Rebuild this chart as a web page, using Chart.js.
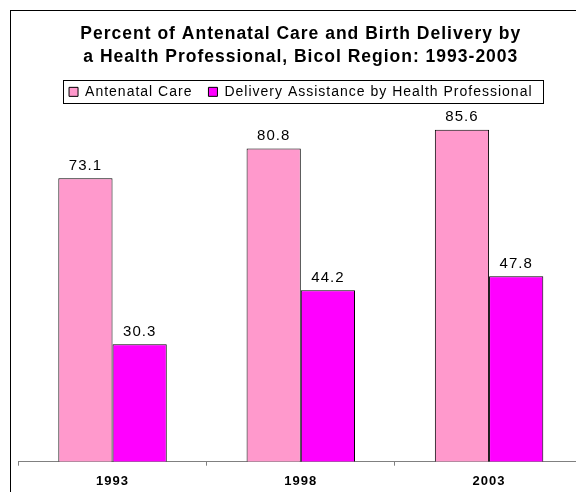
<!DOCTYPE html>
<html>
<head>
<meta charset="utf-8">
<script src="https://cdn.jsdelivr.net/npm/chart.js@4"></script>
<style>
  html, body { margin: 0; padding: 0; background: #fff; overflow: hidden; }
  .frame {
    position: absolute;
    left: 10px;
    top: 10px;
    border-left: 1px solid #000;
    border-top: 1px solid #000;
    width: 600px;
    height: 500px;
    overflow: hidden;
  }
  canvas { display: block; }
</style>
</head>
<body>
<div class="frame">
  <canvas id="careChart" width="578" height="490"></canvas>
</div>
<script>
const years = ['1993', '1998', '2003'];
const antenatalCare = [73.1, 80.8, 85.6];
const deliveryAssistance = [30.3, 44.2, 47.8];
const titleLines = [
  'Percent of Antenatal Care and Birth Delivery by',
  'a Health Professional, Bicol Region: 1993-2003'
];

Chart.defaults.font.family = "'Liberation Sans', Arial, sans-serif";
Chart.defaults.color = '#000';

// old excel export has the text a bit spread out
const letterSpacing = {
  id: 'letterSpacing',
  beforeLayout(chart) { chart.ctx.letterSpacing = '1px'; },
  beforeDraw(chart) { chart.ctx.letterSpacing = '1px'; }
};

// value above every bar
const barValues = {
  id: 'barValues',
  afterDatasetsDraw(chart) {
    const ctx = chart.ctx;
    ctx.save();
    ctx.font = "15px 'Liberation Sans', Arial, sans-serif";
    ctx.fillStyle = '#000';
    ctx.textAlign = 'center';
    ctx.textBaseline = 'alphabetic';
    chart.data.datasets.forEach((ds, i) => {
      chart.getDatasetMeta(i).data.forEach((bar, j) => {
        ctx.fillText(ds.data[j].toFixed(1), bar.x, bar.y - 8.5);
      });
    });
    ctx.restore();
  }
};

// box round the legend
const legendBox = {
  id: 'legendBox',
  afterDraw(chart) {
    const boxes = chart.legend.legendHitBoxes;
    if (!boxes || !boxes.length) return;
    const left = Math.min(...boxes.map(b => b.left)) - 6;
    const right = Math.max(...boxes.map(b => b.left + b.width)) + 10;
    const top = Math.min(...boxes.map(b => b.top)) - 5;
    const bottom = Math.max(...boxes.map(b => b.top + b.height)) + 4;
    const ctx = chart.ctx;
    ctx.save();
    ctx.strokeStyle = '#000';
    ctx.lineWidth = 1;
    ctx.strokeRect(Math.round(left) + 0.5, Math.round(top) + 0.5, Math.round(right - left), Math.round(bottom - top));
    ctx.restore();
  }
};

new Chart(document.getElementById('careChart'), {
  type: 'bar',
  data: {
    labels: years,
    datasets: [
      {
        label: 'Antenatal Care',
        data: antenatalCare,
        backgroundColor: '#FF99CC',
        borderColor: '#000',
        borderWidth: 1,
        categoryPercentage: 0.576,
        barPercentage: 1
      },
      {
        label: 'Delivery Assistance by Health Professional',
        data: deliveryAssistance,
        backgroundColor: '#FF00FF',
        borderColor: '#000',
        borderWidth: 1,
        categoryPercentage: 0.576,
        barPercentage: 1
      }
    ]
  },
  options: {
    responsive: false,
    animation: false,
    layout: {
      padding: { left: 7.4, right: 5.8, top: 0, bottom: 3.7 }
    },
    plugins: {
      title: {
        display: true,
        text: titleLines,
        color: '#000',
        font: { size: 17.5, weight: 'bold', lineHeight: 1.31 },
        padding: { top: 12, bottom: 0 }
      },
      legend: {
        position: 'top',
        labels: {
          boxWidth: 9,
          boxHeight: 9,
          padding: 16,
          color: '#000',
          font: { size: 14 }
        }
      },
      tooltip: { enabled: false }
    },
    scales: {
      x: {
        offset: true,
        grid: {
          display: true,
          offset: true,
          drawOnChartArea: false,
          drawTicks: true,
          tickLength: 4,
          color: '#808080'
        },
        border: { display: true, color: '#808080', width: 1 },
        ticks: {
          padding: 8,
          color: '#000',
          font: { size: 13, weight: 'bold' }
        }
      },
      y: {
        display: false,
        min: 0,
        max: 91
      }
    }
  },
  plugins: [letterSpacing, barValues, legendBox]
});
</script>
</body>
</html>
